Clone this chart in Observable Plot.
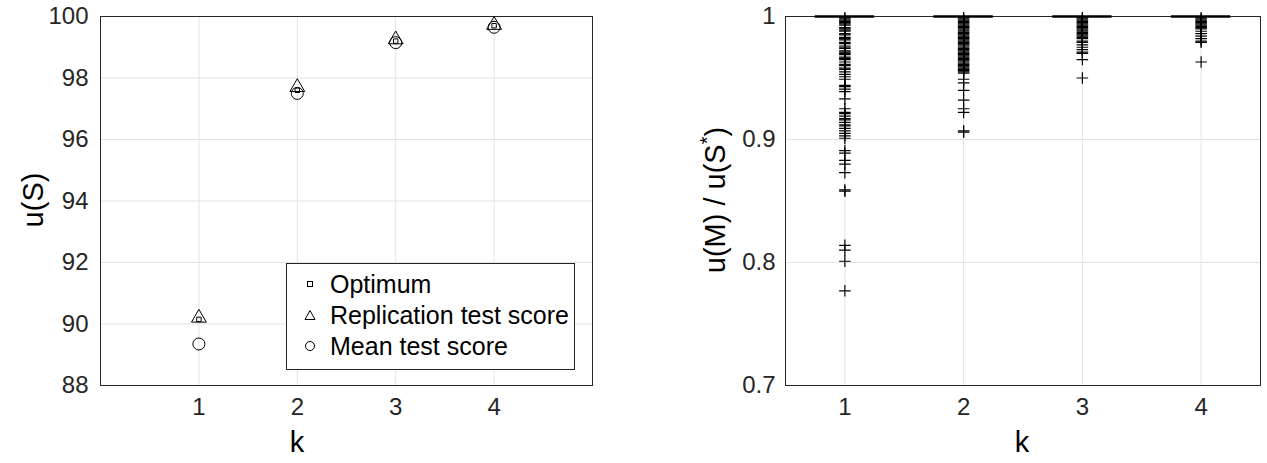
<!DOCTYPE html>
<html>
<head>
<meta charset="utf-8">
<script src="https://cdn.jsdelivr.net/npm/d3@7"></script>
<script src="https://cdn.jsdelivr.net/npm/@observablehq/plot@0.6"></script>
<style>
  body { margin: 0; background: #fff; }
  #wrap { position: relative; width: 1267px; height: 463px; display: flex; font-family: "Liberation Sans", Arial, sans-serif; }
  #legend { position: absolute; left: 286px; top: 263px; width: 287px; height: 105px; border: 1px solid #262626; background: #fff; }
  .row { position: absolute; left: 0; height: 30px; display: flex; align-items: center; font-size: 25px; color: #000; white-space: nowrap; }
  .row svg { margin-left: 17px; margin-right: 14px; }
</style>
</head>
<body>
<div id="wrap"></div>
<script>
// ---- Left panel data ----
const kValues = [1, 2, 3, 4];
const optimum = [90.15, 97.6, 99.2, 99.7];
const replication = [90.2, 97.7, 99.25, 99.72];
const meanScore = [89.35, 97.5, 99.15, 99.65];
const leftYTicks = [88, 90, 92, 94, 96, 98, 100];
const xTicks = [1, 2, 3, 4];
const legendLabels = ["Optimum", "Replication test score", "Mean test score"];

// ---- Right panel data: outliers of u(M)/u(S*) per k ----
const ratioK1 = [0.999, 0.998, 0.997, 0.996, 0.995, 0.994, 0.993, 0.991, 0.990, 0.989, 0.988, 0.986, 0.985, 0.983, 0.982, 0.981, 0.979, 0.978, 0.976, 0.975, 0.974, 0.972, 0.971, 0.970, 0.969, 0.967, 0.966, 0.965, 0.963, 0.961, 0.960, 0.958, 0.957, 0.955, 0.953, 0.951, 0.949, 0.944, 0.943, 0.941, 0.939, 0.933, 0.925, 0.922, 0.921, 0.919, 0.917, 0.916, 0.914, 0.912, 0.911, 0.909, 0.907, 0.905, 0.903, 0.901, 0.891, 0.889, 0.883, 0.880, 0.873, 0.859, 0.858, 0.814, 0.810, 0.801, 0.777];
const ratioK2 = [0.999, 0.998, 0.997, 0.996, 0.995, 0.994, 0.993, 0.992, 0.991, 0.990, 0.989, 0.988, 0.987, 0.986, 0.985, 0.984, 0.983, 0.982, 0.981, 0.980, 0.979, 0.978, 0.977, 0.976, 0.975, 0.974, 0.973, 0.972, 0.971, 0.970, 0.969, 0.968, 0.967, 0.966, 0.965, 0.964, 0.963, 0.962, 0.961, 0.960, 0.959, 0.958, 0.957, 0.956, 0.955, 0.954, 0.949, 0.946, 0.940, 0.932, 0.925, 0.922, 0.907, 0.906];
const ratioK3 = [0.999, 0.998, 0.997, 0.996, 0.995, 0.994, 0.993, 0.992, 0.991, 0.990, 0.989, 0.988, 0.987, 0.986, 0.985, 0.984, 0.983, 0.982, 0.980, 0.979, 0.977, 0.975, 0.973, 0.971, 0.970, 0.965, 0.950];
const ratioK4 = [0.999, 0.998, 0.997, 0.996, 0.995, 0.994, 0.993, 0.992, 0.991, 0.990, 0.988, 0.986, 0.984, 0.982, 0.980, 0.979, 0.963];
const rightYTicks = [0.7, 0.8, 0.9, 1];
const boxMedian = [1, 1, 1, 1];

const font = { fontFamily: "'Liberation Sans', Arial, sans-serif", fontSize: "24px", color: "#262626", background: "transparent" };
const gridColor = "#e3e3e3";
const axisColor = "#262626";

const leftRows = kValues.map((k, i) => ({ k, optimum: optimum[i], replication: replication[i], mean: meanScore[i] }));

const left = Plot.plot({
  width: 633, height: 463,
  marginLeft: 100, marginRight: 41, marginTop: 16, marginBottom: 78,
  style: font,
  x: { domain: [0, 5], ticks: xTicks, label: null, tickSize: 0, tickPadding: 12, tickFormat: d => String(d) },
  y: { domain: [88, 100], ticks: leftYTicks, label: null, tickSize: 0, tickPadding: 12 },
  marks: [
    Plot.gridX(xTicks, { stroke: gridColor, strokeOpacity: 1 }),
    Plot.gridY(leftYTicks, { stroke: gridColor, strokeOpacity: 1 }),
    Plot.frame({ stroke: axisColor }),
    Plot.dot(leftRows, { x: "k", y: "optimum", symbol: "square", r: 2.5, stroke: "#000", strokeWidth: 1 }),
    Plot.dot(leftRows, { x: "k", y: "replication", symbol: "triangle", r: 5.5, stroke: "#000", strokeWidth: 1 }),
    Plot.dot(leftRows, { x: "k", y: "mean", symbol: "circle", r: 6, stroke: "#000", strokeWidth: 1 })
  ]
});

const rightRows = [
  ...ratioK1.map(v => ({ k: 1, v })),
  ...ratioK2.map(v => ({ k: 2, v })),
  ...ratioK3.map(v => ({ k: 3, v })),
  ...ratioK4.map(v => ({ k: 4, v }))
];
const boxRows = kValues.map((k, i) => ({ k, med: boxMedian[i] }));

const right = Plot.plot({
  width: 634, height: 463,
  marginLeft: 152, marginRight: 7, marginTop: 16, marginBottom: 78,
  style: font,
  x: { domain: [0.5, 4.5], ticks: xTicks, label: null, tickSize: 0, tickPadding: 12, tickFormat: d => String(d) },
  y: { domain: [0.7, 1], ticks: rightYTicks, label: null, tickSize: 0, tickPadding: 10,
       tickFormat: d => d === 1 ? "1" : d.toFixed(1) },
  marks: [
    Plot.gridX(xTicks, { stroke: gridColor, strokeOpacity: 1 }),
    Plot.gridY(rightYTicks, { stroke: gridColor, strokeOpacity: 1 }),
    Plot.frame({ stroke: axisColor }),
    Plot.ruleY(boxRows, { y: "med", x1: d => d.k - 0.25, x2: d => d.k + 0.25, stroke: "#000", strokeWidth: 2.5 }),
    Plot.dot(rightRows, { x: "k", y: "v", symbol: "plus", r: 3.8, stroke: "#000", strokeWidth: 1.2 })
  ]
});

const wrap = document.getElementById("wrap");
wrap.appendChild(left);
wrap.appendChild(right);

// axis titles
const lsv = d3.select(left);
lsv.append("text").attr("x", 297).attr("y", 452).attr("text-anchor", "middle")
  .style("font-size", "29px").attr("fill", "#000").text("k");
lsv.append("text").attr("transform", "translate(43,200) rotate(-90)").attr("text-anchor", "middle")
  .style("font-size", "29px").attr("fill", "#000").text("u(S)");

const rsv = d3.select(right);
rsv.append("text").attr("x", 389).attr("y", 452).attr("text-anchor", "middle")
  .style("font-size", "29px").attr("fill", "#000").text("k");
const yl = rsv.append("text").attr("transform", "translate(92,200) rotate(-90)").attr("text-anchor", "middle")
  .style("font-size", "29px").attr("fill", "#000");
yl.append("tspan").text("u(M) / u(S");
yl.append("tspan").attr("dy", "-0.55em").style("font-size", "20px").text("*");
yl.append("tspan").attr("dy", "0.4em").text(")");

// legend
const legend = document.createElement("div");
legend.id = "legend";
const symbols = [
  '<svg width="12" height="12"><rect x="3.5" y="3.5" width="5" height="5" fill="none" stroke="#000"/></svg>',
  '<svg width="12" height="12"><path d="M6 1.5 L11 10.5 L1 10.5 Z" fill="none" stroke="#000"/></svg>',
  '<svg width="12" height="12"><circle cx="6" cy="6" r="4.5" fill="none" stroke="#000"/></svg>'
];
legendLabels.forEach((lab, i) => {
  const row = document.createElement("div");
  row.className = "row";
  row.style.top = (5 + i * 31) + "px";
  row.innerHTML = symbols[i] + "<span>" + lab + "</span>";
  legend.appendChild(row);
});
wrap.appendChild(legend);
</script>
</body>
</html>
